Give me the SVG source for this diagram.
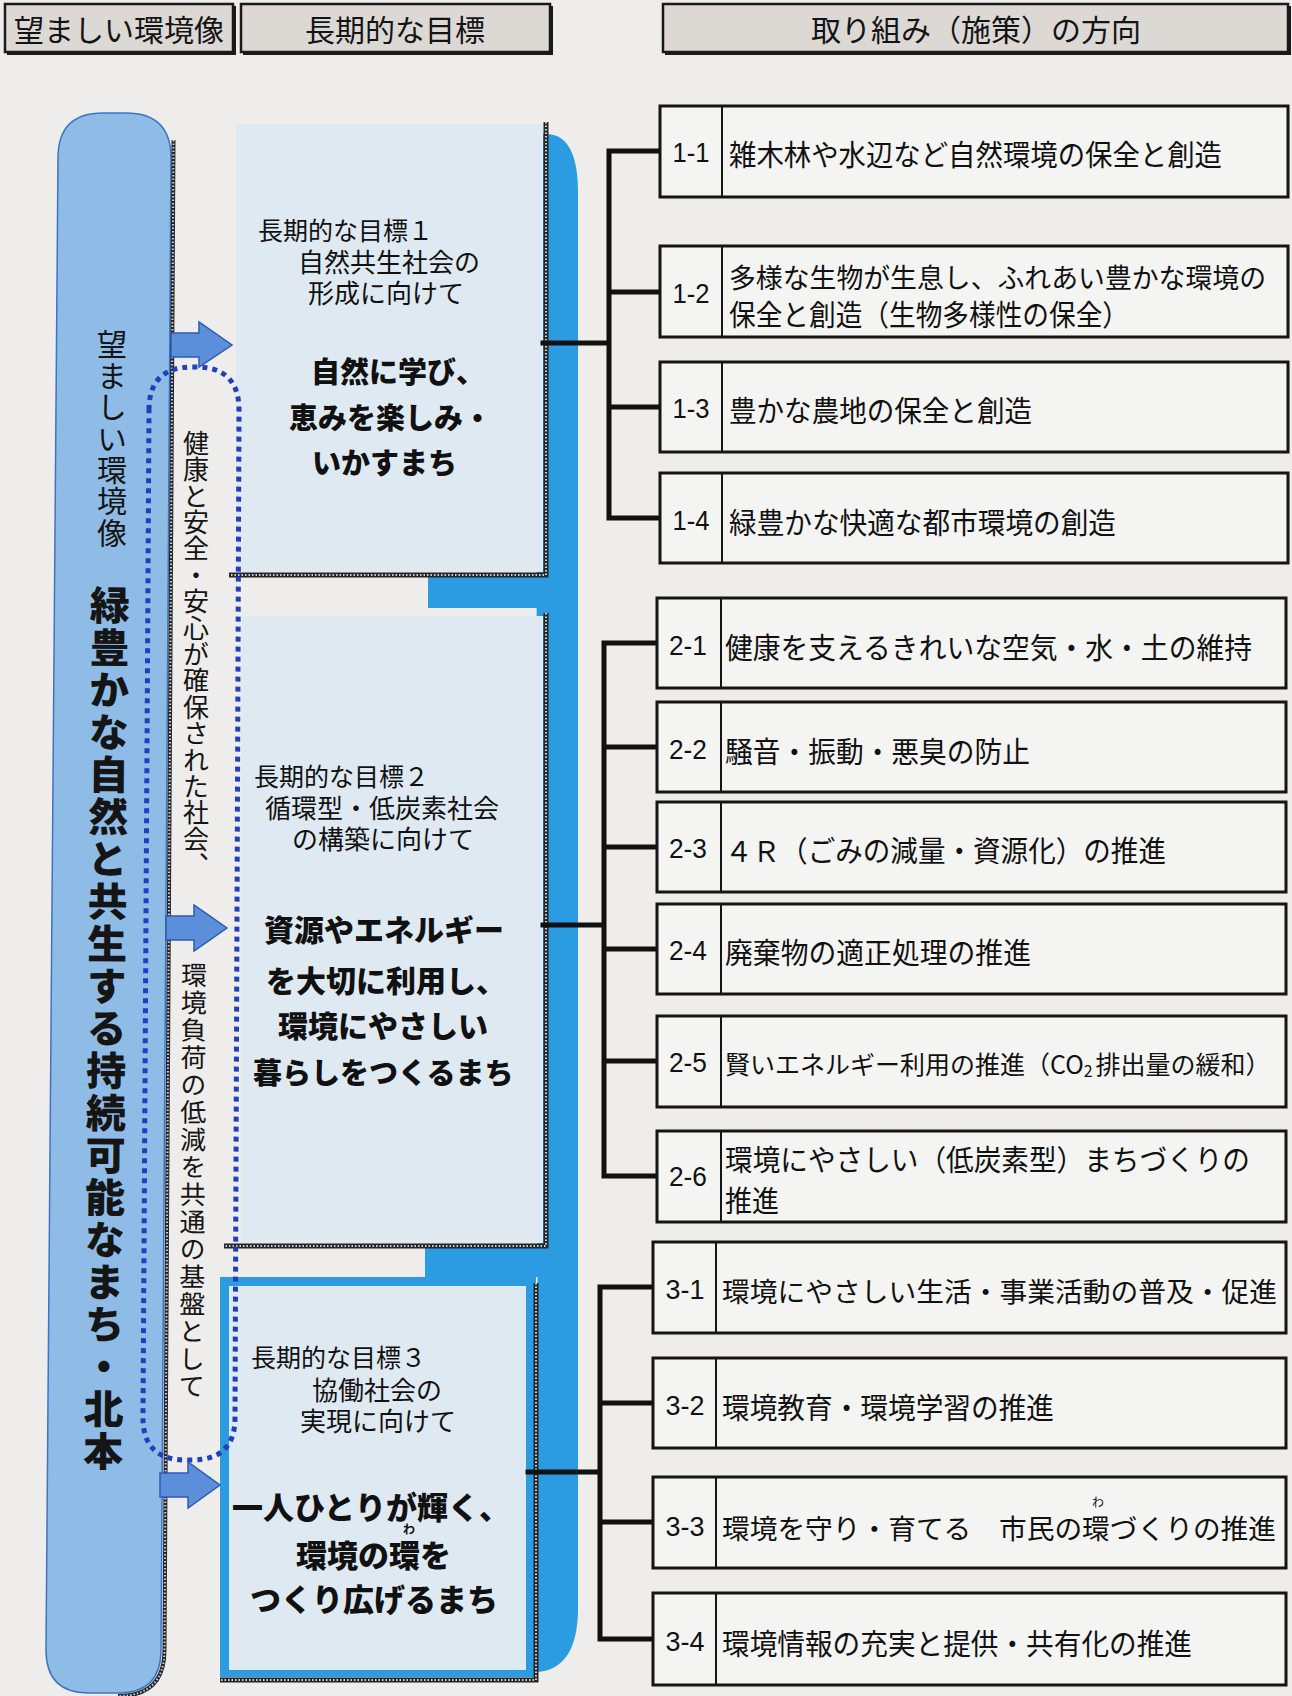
<svg xmlns="http://www.w3.org/2000/svg" width="1292" height="1696" viewBox="0 0 1292 1696">
<style>
.hdr{fill:#dcd8d4;stroke:#1a1a1a;stroke-width:2.5}
.hsh{fill:none;stroke:#1a1a1a;stroke-width:2}
.ht{font-family:"Noto Sans CJK JP",sans-serif;font-size:30px;fill:#141414;text-anchor:middle;dominant-baseline:central}
.box{fill:#f4f4f2;stroke:#151515;stroke-width:3}
.dv{stroke:#151515;stroke-width:2}
.num{font-family:"Liberation Sans",sans-serif;font-size:27px;fill:#111;text-anchor:middle;dominant-baseline:central}
.bt{font-family:"Noto Sans CJK JP",sans-serif;font-size:29px;fill:#111;dominant-baseline:central}
.gt{font-family:"Noto Sans CJK JP",sans-serif;font-size:26px;fill:#111;dominant-baseline:central}
.gb{font-family:"Noto Sans CJK JP",sans-serif;font-weight:900;fill:#111;dominant-baseline:central}
.conn{stroke:#111;stroke-width:5;fill:none;stroke-linecap:square}
.light{fill:#dfe9f2}
.blue{fill:#2b9be2}
.hk{fill:none;stroke:#262626;stroke-width:5}
.hw{fill:none;stroke:#c9d3dc;stroke-width:2;stroke-dasharray:1.5 2}
.arrow{fill:#5b8fd9;stroke:#2d5bb5;stroke-width:1.5}
.dots{fill:none;stroke:#1f3fbf;stroke-width:5;stroke-dasharray:5 5}
.vt{font-family:"Noto Sans CJK JP",sans-serif;writing-mode:vertical-rl;fill:#151515}
.ruby{font-family:"Noto Sans CJK JP",sans-serif;font-size:12px;fill:#111;text-anchor:middle;dominant-baseline:central}
</style>
<rect x="0" y="0" width="1292" height="1696" fill="#eeedeb"/>

<g id="headers">
  <g id="header-1">
    <rect class="hdr" x="5" y="4" width="228" height="48"/>
    <path class="hsh" d="M7,54 H235 V6"/>
    <text class="ht" x="119" y="28">望ましい環境像</text>
  </g>
  <g id="header-2">
    <rect class="hdr" x="241" y="4" width="309" height="48"/>
    <path class="hsh" d="M243,54 H552 V6"/>
    <text class="ht" x="395" y="28">長期的な目標</text>
  </g>
  <g id="header-3">
    <rect class="hdr" x="663" y="4" width="625" height="48"/>
    <path class="hsh" d="M665,54 H1290 V6"/>
    <text class="ht" x="976" y="28">取り組み（施策）の方向</text>
  </g>
</g>

<g id="blue-panel">
  <path class="blue" d="M536,134 H546 Q578,134 578,193 V1608 Q578,1668 538,1672 Z"/>
  <rect class="blue" x="428" y="575" width="120" height="33"/>
  <rect class="blue" x="425" y="1246" width="120" height="31"/>
  <rect class="blue" x="220" y="1277" width="316" height="400"/>
</g>

<g id="goal-1">
  <rect class="light" x="236" y="124" width="307" height="448"/>
  <path class="hk" d="M546,122 V575 H229"/>
  <path class="hw" d="M546,122 V575 H229"/>
  <text class="gt" x="258" y="229" style="font-size:25px">長期的な目標１</text>
  <text class="gt" x="298" y="260">自然共生社会の</text>
  <text class="gt" x="308" y="291">形成に向けて</text>
  <text class="gb" x="311" y="370" style="font-size:29px">自然に学び、</text>
  <text class="gb" x="289" y="416" style="font-size:29px">恵みを楽しみ・</text>
  <text class="gb" x="312" y="461" style="font-size:29px">いかすまち</text>
</g>

<g id="goal-2">
  <rect class="light" x="241" y="616" width="302" height="627"/>
  <path class="hk" d="M546,613 V1246 H224"/>
  <path class="hw" d="M546,613 V1246 H224"/>
  <text class="gt" x="254" y="775" style="font-size:25px">長期的な目標２</text>
  <text class="gt" x="265" y="806">循環型・低炭素社会</text>
  <text class="gt" x="292" y="837">の構築に向けて</text>
  <text class="gb" x="264" y="928" style="font-size:30px">資源やエネルギー</text>
  <text class="gb" x="266" y="979" style="font-size:30px">を大切に利用し、</text>
  <text class="gb" x="278" y="1024" style="font-size:30px">環境にやさしい</text>
  <text class="gb" x="253" y="1071" style="font-size:29px">暮らしをつくるまち</text>
</g>

<g id="goal-3">
  <rect class="light" x="229" y="1286" width="297" height="384"/>
  <path class="hk" d="M536,1283 V1680 H220"/>
  <path class="hw" d="M536,1283 V1680 H220"/>
  <text class="gt" x="251" y="1356" style="font-size:25px">長期的な目標３</text>
  <text class="gt" x="312" y="1388">協働社会の</text>
  <text class="gt" x="300" y="1419">実現に向けて</text>
  <text class="gb" x="232" y="1505" style="font-size:31px">一人ひとりが輝く、</text>
  <text class="ruby" x="409" y="1528" style="font-weight:700">わ</text>
  <text class="gb" x="296" y="1553" style="font-size:31px">環境の環を</text>
  <text class="gb" x="250" y="1597" style="font-size:31px">つくり広げるまち</text>
</g>

<g id="vision">
  <path d="M58,158 Q58,113 103,113 H126 Q171,113 171,158 L161,1650 Q161,1693 118,1693 H89 Q46,1693 46,1650 Z" fill="#8fbce7" stroke="#3d74c4" stroke-width="1.5"/>
  <path class="hk" d="M173.5,140 L164.5,1650 Q164.5,1696 118,1696" style="stroke-width:4"/>
  <path class="hw" d="M173.5,140 L164.5,1650 Q164.5,1696 118,1696"/>
  <text class="vt" x="112" y="329" style="font-size:30px;letter-spacing:1.4px">望ましい環境像</text>
  <text class="vt" x="110" y="585" transform="rotate(0.45 110 585)" style="font-size:40px;font-weight:900;letter-spacing:2.3px">緑豊かな自然と共生する持続可能なまち・北本</text>
</g>

<g id="foundation">
  <path class="dots" d="M149,410 Q149,367 192,367 H196 Q239,367 239,410 L235,1418 Q235,1460 192,1460 H186 Q143,1460 143,1418 Z"/>
  <text class="vt" x="196" y="430" style="font-size:26px;letter-spacing:0.4px">健康と安全・安心が確保された社会、</text>
  <text class="vt" x="194" y="962" transform="rotate(0.3 194 962)" style="font-size:26px;letter-spacing:1.4px">環境負荷の低減を共通の基盤として</text>
</g>

<g id="arrows">
  <polygon class="arrow" points="171,333 199,333 199,322 232,345 199,367 199,357 171,357"/>
  <polygon class="arrow" points="166,916 194,916 194,905 227,928 194,951 194,940 166,940"/>
  <polygon class="arrow" points="160,1473 188,1473 188,1462 220,1485 188,1508 188,1497 160,1497"/>
</g>

<g id="connectors">
  <path class="conn" d="M543,343 H609 M609,151 V518 M609,151 H660 M609,292 H660 M609,407 H660 M609,518 H660"/>
  <path class="conn" d="M543,925 H604 M604,643 V1176 M604,643 H657 M604,747 H657 M604,847 H657 M604,949 H657 M604,1061 H657 M604,1176 H657"/>
  <path class="conn" d="M528,1472 H600 M600,1287 V1639 M600,1287 H653 M600,1403 H653 M600,1522 H653 M600,1639 H653"/>
</g>

<g id="a1-1">
  <rect class="box" x="660" y="106" width="628" height="91"/>
  <line class="dv" x1="722" y1="106" x2="722" y2="197"/>
  <text class="num" x="691" y="153" textLength="37" lengthAdjust="spacingAndGlyphs">1-1</text>
  <text class="bt" x="729" y="153" textLength="493" lengthAdjust="spacingAndGlyphs">雑木林や水辺など自然環境の保全と創造</text>
</g>
<g id="a1-2">
  <rect class="box" x="660" y="246" width="628" height="91"/>
  <line class="dv" x1="722" y1="246" x2="722" y2="337"/>
  <text class="num" x="691" y="294" textLength="37" lengthAdjust="spacingAndGlyphs">1-2</text>
  <text class="bt" x="729" y="276" style="font-size:27.5px" textLength="537" lengthAdjust="spacingAndGlyphs">多様な生物が生息し、ふれあい豊かな環境の</text>
  <text class="bt" x="729" y="313" textLength="400" lengthAdjust="spacingAndGlyphs">保全と創造（生物多様性の保全）</text>
</g>
<g id="a1-3">
  <rect class="box" x="660" y="362" width="628" height="90"/>
  <line class="dv" x1="722" y1="362" x2="722" y2="452"/>
  <text class="num" x="691" y="409" textLength="37" lengthAdjust="spacingAndGlyphs">1-3</text>
  <text class="bt" x="729" y="409" textLength="303" lengthAdjust="spacingAndGlyphs">豊かな農地の保全と創造</text>
</g>
<g id="a1-4">
  <rect class="box" x="660" y="473" width="628" height="90"/>
  <line class="dv" x1="722" y1="473" x2="722" y2="563"/>
  <text class="num" x="691" y="521" textLength="37" lengthAdjust="spacingAndGlyphs">1-4</text>
  <text class="bt" x="729" y="521" textLength="387" lengthAdjust="spacingAndGlyphs">緑豊かな快適な都市環境の創造</text>
</g>

<g id="a2-1">
  <rect class="box" x="657" y="598" width="629" height="90"/>
  <line class="dv" x1="721" y1="598" x2="721" y2="688"/>
  <text class="num" x="688" y="646" textLength="38" lengthAdjust="spacingAndGlyphs">2-1</text>
  <text class="bt" x="725" y="646" textLength="527" lengthAdjust="spacingAndGlyphs">健康を支えるきれいな空気・水・土の維持</text>
</g>
<g id="a2-2">
  <rect class="box" x="657" y="702" width="629" height="90"/>
  <line class="dv" x1="721" y1="702" x2="721" y2="792"/>
  <text class="num" x="688" y="750" textLength="38" lengthAdjust="spacingAndGlyphs">2-2</text>
  <text class="bt" x="725" y="750" textLength="305" lengthAdjust="spacingAndGlyphs">騒音・振動・悪臭の防止</text>
</g>
<g id="a2-3">
  <rect class="box" x="657" y="802" width="629" height="90"/>
  <line class="dv" x1="721" y1="802" x2="721" y2="892"/>
  <text class="num" x="688" y="849" textLength="38" lengthAdjust="spacingAndGlyphs">2-3</text>
  <text class="bt" x="725" y="849" textLength="441" lengthAdjust="spacingAndGlyphs">４Ｒ（ごみの減量・資源化）の推進</text>
</g>
<g id="a2-4">
  <rect class="box" x="657" y="904" width="629" height="90"/>
  <line class="dv" x1="721" y1="904" x2="721" y2="994"/>
  <text class="num" x="688" y="951" textLength="38" lengthAdjust="spacingAndGlyphs">2-4</text>
  <text class="bt" x="725" y="951" textLength="306" lengthAdjust="spacingAndGlyphs">廃棄物の適正処理の推進</text>
</g>
<g id="a2-5">
  <rect class="box" x="657" y="1016" width="629" height="91"/>
  <line class="dv" x1="721" y1="1016" x2="721" y2="1107"/>
  <text class="num" x="688" y="1063" textLength="38" lengthAdjust="spacingAndGlyphs">2-5</text>
  <text class="bt" x="725" y="1063" style="font-size:25px">賢いエネルギー利用の推進（CO<tspan style="font-size:16px" dy="7">2</tspan><tspan dx="3" dy="-7">排出量の緩和）</tspan></text>
</g>
<g id="a2-6">
  <rect class="box" x="657" y="1131" width="629" height="91"/>
  <line class="dv" x1="721" y1="1131" x2="721" y2="1222"/>
  <text class="num" x="688" y="1177" textLength="38" lengthAdjust="spacingAndGlyphs">2-6</text>
  <text class="bt" x="725" y="1158" textLength="525" lengthAdjust="spacingAndGlyphs">環境にやさしい（低炭素型）まちづくりの</text>
  <text class="bt" x="725" y="1199" textLength="54" lengthAdjust="spacingAndGlyphs">推進</text>
</g>

<g id="a3-1">
  <rect class="box" x="653" y="1242" width="633" height="91"/>
  <line class="dv" x1="716" y1="1242" x2="716" y2="1333"/>
  <text class="num" x="685" y="1290" textLength="39" lengthAdjust="spacingAndGlyphs">3-1</text>
  <text class="bt" x="722" y="1290" style="font-size:27.5px" textLength="555" lengthAdjust="spacingAndGlyphs">環境にやさしい生活・事業活動の普及・促進</text>
</g>
<g id="a3-2">
  <rect class="box" x="653" y="1358" width="633" height="90"/>
  <line class="dv" x1="716" y1="1358" x2="716" y2="1448"/>
  <text class="num" x="685" y="1406" textLength="39" lengthAdjust="spacingAndGlyphs">3-2</text>
  <text class="bt" x="722" y="1406" textLength="332" lengthAdjust="spacingAndGlyphs">環境教育・環境学習の推進</text>
</g>
<g id="a3-3">
  <rect class="box" x="653" y="1477" width="633" height="91"/>
  <line class="dv" x1="716" y1="1477" x2="716" y2="1568"/>
  <text class="num" x="685" y="1527" textLength="39" lengthAdjust="spacingAndGlyphs">3-3</text>
  <text class="bt" x="722" y="1527" style="font-size:27.5px" textLength="554" lengthAdjust="spacingAndGlyphs">環境を守り・育てる　市民の環づくりの推進</text>
  <text class="ruby" x="1098" y="1501">わ</text>
</g>
<g id="a3-4">
  <rect class="box" x="653" y="1593" width="633" height="92"/>
  <line class="dv" x1="716" y1="1593" x2="716" y2="1685"/>
  <text class="num" x="685" y="1642" textLength="39" lengthAdjust="spacingAndGlyphs">3-4</text>
  <text class="bt" x="722" y="1642" textLength="470" lengthAdjust="spacingAndGlyphs">環境情報の充実と提供・共有化の推進</text>
</g>
</svg>
